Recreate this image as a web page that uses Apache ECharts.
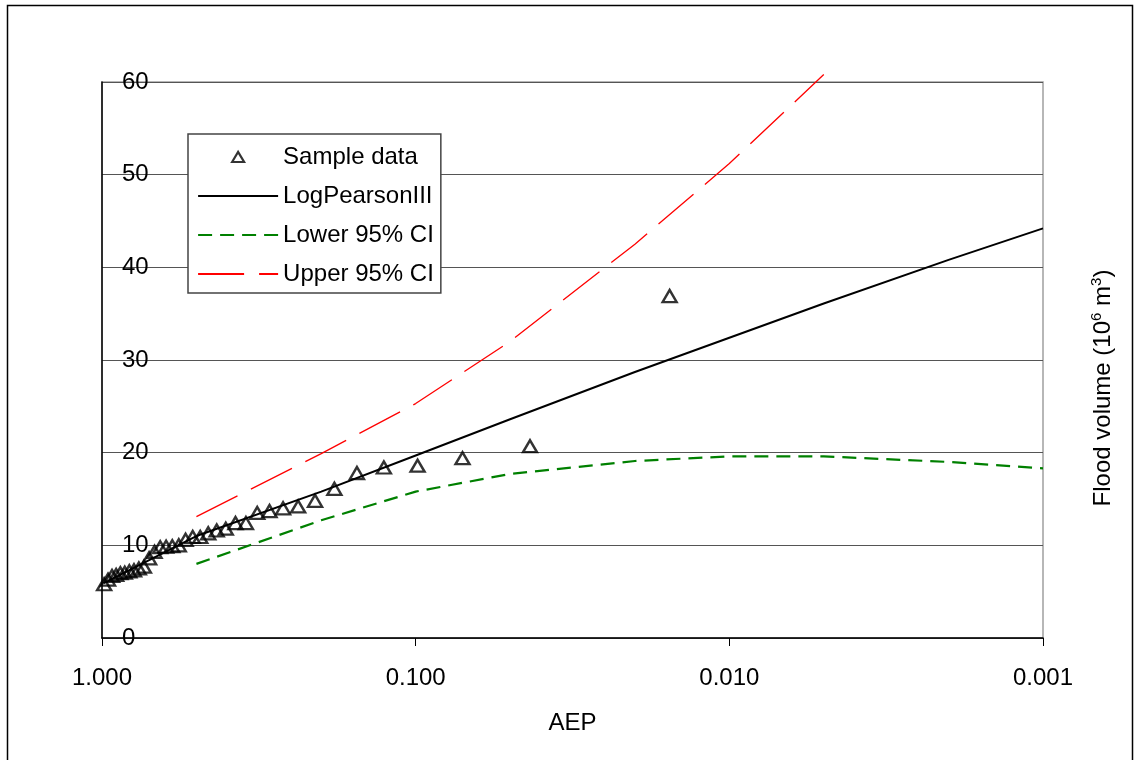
<!DOCTYPE html>
<html>
<head>
<meta charset="utf-8">
<script src="https://cdn.jsdelivr.net/npm/echarts@6/dist/echarts.min.js"></script>
<style>
html,body{margin:0;padding:0;background:#fff;}
#chart{width:1140px;height:760px;}
</style>
</head>
<body>
<div id="chart"></div>
<script>
// Sample data (plotting positions, AEP) and flood volumes
const sampleAEP = [0.0155, 0.0432, 0.0709, 0.0986, 0.1263, 0.1539, 0.1816, 0.2093, 0.2370, 0.2647,
  0.2924, 0.3200, 0.3477, 0.3754, 0.4031, 0.4308, 0.4585, 0.4862, 0.5138, 0.5415,
  0.5692, 0.5969, 0.6246, 0.6523, 0.6800, 0.7076, 0.7353, 0.7630, 0.7907, 0.8184,
  0.8461, 0.8738, 0.9014, 0.9291, 0.9568, 0.9845];
const sampleVol = [36.9, 20.7, 19.4, 18.6, 18.4, 17.8, 16.1, 14.8, 14.2, 14.0,
  13.7, 13.5, 12.4, 12.4, 11.8, 11.6, 11.3, 10.9, 10.9, 10.6,
  10.0, 9.9, 9.85, 9.8, 9.3, 8.6, 7.7, 7.5, 7.3, 7.2,
  7.05, 7.0, 6.8, 6.7, 6.3, 5.8];

// Fitted Log Pearson III curve
const lp3AEP = [0.99, 0.5, 0.2, 0.1, 0.05, 0.02, 0.01, 0.005, 0.002, 0.001];
const lp3Vol = [5.9, 11.0, 15.8, 19.7, 23.6, 28.7, 32.4, 36.1, 40.8, 44.2];

// Confidence limits
const lowerAEP = [0.5, 0.2, 0.1, 0.05, 0.02, 0.01, 0.005, 0.002, 0.001];
const lowerVol = [8.0, 12.7, 15.8, 17.7, 19.1, 19.6, 19.6, 19.0, 18.3];
const upperAEP = [0.5, 0.2, 0.1, 0.05, 0.02, 0.01, 0.005];
const upperVol = [13.1, 19.9, 25.3, 32.0, 42.5, 51.2, 60.8];

const xTicks = ['1.000', '0.100', '0.010', '0.001'];
const FONT = "'Liberation Sans', Arial, sans-serif";

const pairs = (xs, ys) => xs.map((x, i) => [x, ys[i]]);

const chart = echarts.init(document.getElementById('chart'));
chart.setOption({
  backgroundColor: '#fff',
  animation: false,
  textStyle: { fontFamily: FONT },
  grid: {
    left: 102, right: 97, top: 82, bottom: 122,
    show: true, borderColor: '#a0a0a0', borderWidth: 1.5, backgroundColor: 'transparent'
  },
  legend: {
    orient: 'vertical',
    left: 188, top: 134,
    padding: [9, 7, 5, 9],
    itemWidth: 80, itemHeight: 12, itemGap: 11,
    backgroundColor: '#fff',
    borderColor: '#444', borderWidth: 1.5,
    textStyle: { fontSize: 24, color: '#000', fontFamily: FONT, lineHeight: 28 },
    data: [
      { name: 'Sample data', icon: 'path://M0,0 M34,11 L40,1 L46,11 Z M80,12',
        itemStyle: { color: 'rgba(0,0,0,0)', borderColor: '#000', borderWidth: 2.2 } },
      { name: 'LogPearsonIII', itemStyle: { opacity: 0 } },
      { name: 'Lower 95% CI', itemStyle: { opacity: 0 } },
      { name: 'Upper 95% CI', itemStyle: { opacity: 0 } }
    ]
  },
  xAxis: {
    type: 'log', logBase: 10, min: 0.001, max: 1, inverse: true,
    name: 'AEP', nameLocation: 'middle', nameGap: 73,
    nameTextStyle: { fontSize: 24, color: '#000', fontFamily: FONT },
    axisLine: { show: true, onZero: false, lineStyle: { color: '#000', width: 1.5 } },
    axisTick: { show: true, length: 8, lineStyle: { color: '#000', width: 1 } },
    minorTick: { show: false },
    splitLine: { show: false },
    axisLabel: {
      fontSize: 24, color: '#000', fontFamily: FONT, margin: 28,
      formatter: function (v) {
        const k = Math.round(-Math.log10(v));
        return xTicks[k] !== undefined ? xTicks[k] : v.toFixed(3);
      }
    }
  },
  yAxis: {
    type: 'value', min: 0, max: 60, interval: 10,
    axisLine: { show: true, lineStyle: { color: '#000', width: 1.5 } },
    axisTick: { show: false },
    splitLine: { show: true, lineStyle: { color: '#555', width: 1.2 } },
    axisLabel: { inside: true, margin: 20, fontSize: 24, color: '#000', fontFamily: FONT }
  },
  graphic: [
    {
      type: 'rect', silent: true,
      shape: { x: 7.5, y: 5.5, width: 1125, height: 800 },
      style: { fill: 'none', stroke: '#000', lineWidth: 1.5 }, z: -10
    },
    {
      type: 'text', x: 1103, y: 388, rotation: Math.PI / 2,
      style: {
        text: '{n|Flood volume (10}{s|6}{n| m}{s|3}{n|)}',
        align: 'center', verticalAlign: 'middle',
        rich: {
          n: { fontSize: 24, fontFamily: FONT, fill: '#000', lineHeight: 28 },
          s: { fontSize: 15, fontFamily: FONT, fill: '#000', verticalAlign: 'top', lineHeight: 16 }
        }
      }
    }
  ],
  series: [
    {
      name: 'Sample data', type: 'scatter',
      data: pairs(sampleAEP, sampleVol),
      symbol: 'triangle', symbolSize: [14, 12],
      itemStyle: { color: 'rgba(0,0,0,0)', borderColor: '#000', borderWidth: 2.4 },
      z: 3
    },
    {
      name: 'LogPearsonIII', type: 'line',
      data: pairs(lp3AEP, lp3Vol),
      symbol: 'none', showSymbol: false,
      lineStyle: { color: '#000', width: 2, type: 'solid' },
      itemStyle: { color: '#000' },
      z: 4
    },
    {
      name: 'Lower 95% CI', type: 'line',
      data: pairs(lowerAEP, lowerVol),
      symbol: 'none', showSymbol: false,
      lineStyle: { color: '#008000', width: 2.2, type: [14, 8] },
      itemStyle: { color: '#008000' },
      z: 4
    },
    {
      name: 'Upper 95% CI', type: 'line',
      data: pairs(upperAEP, upperVol),
      symbol: 'none', showSymbol: false, clip: false,
      lineStyle: { color: '#ff0000', width: 1.3, type: [46, 15] },
      itemStyle: { color: '#ff0000' },
      z: 4
    }
  ]
});
</script>
</body>
</html>
